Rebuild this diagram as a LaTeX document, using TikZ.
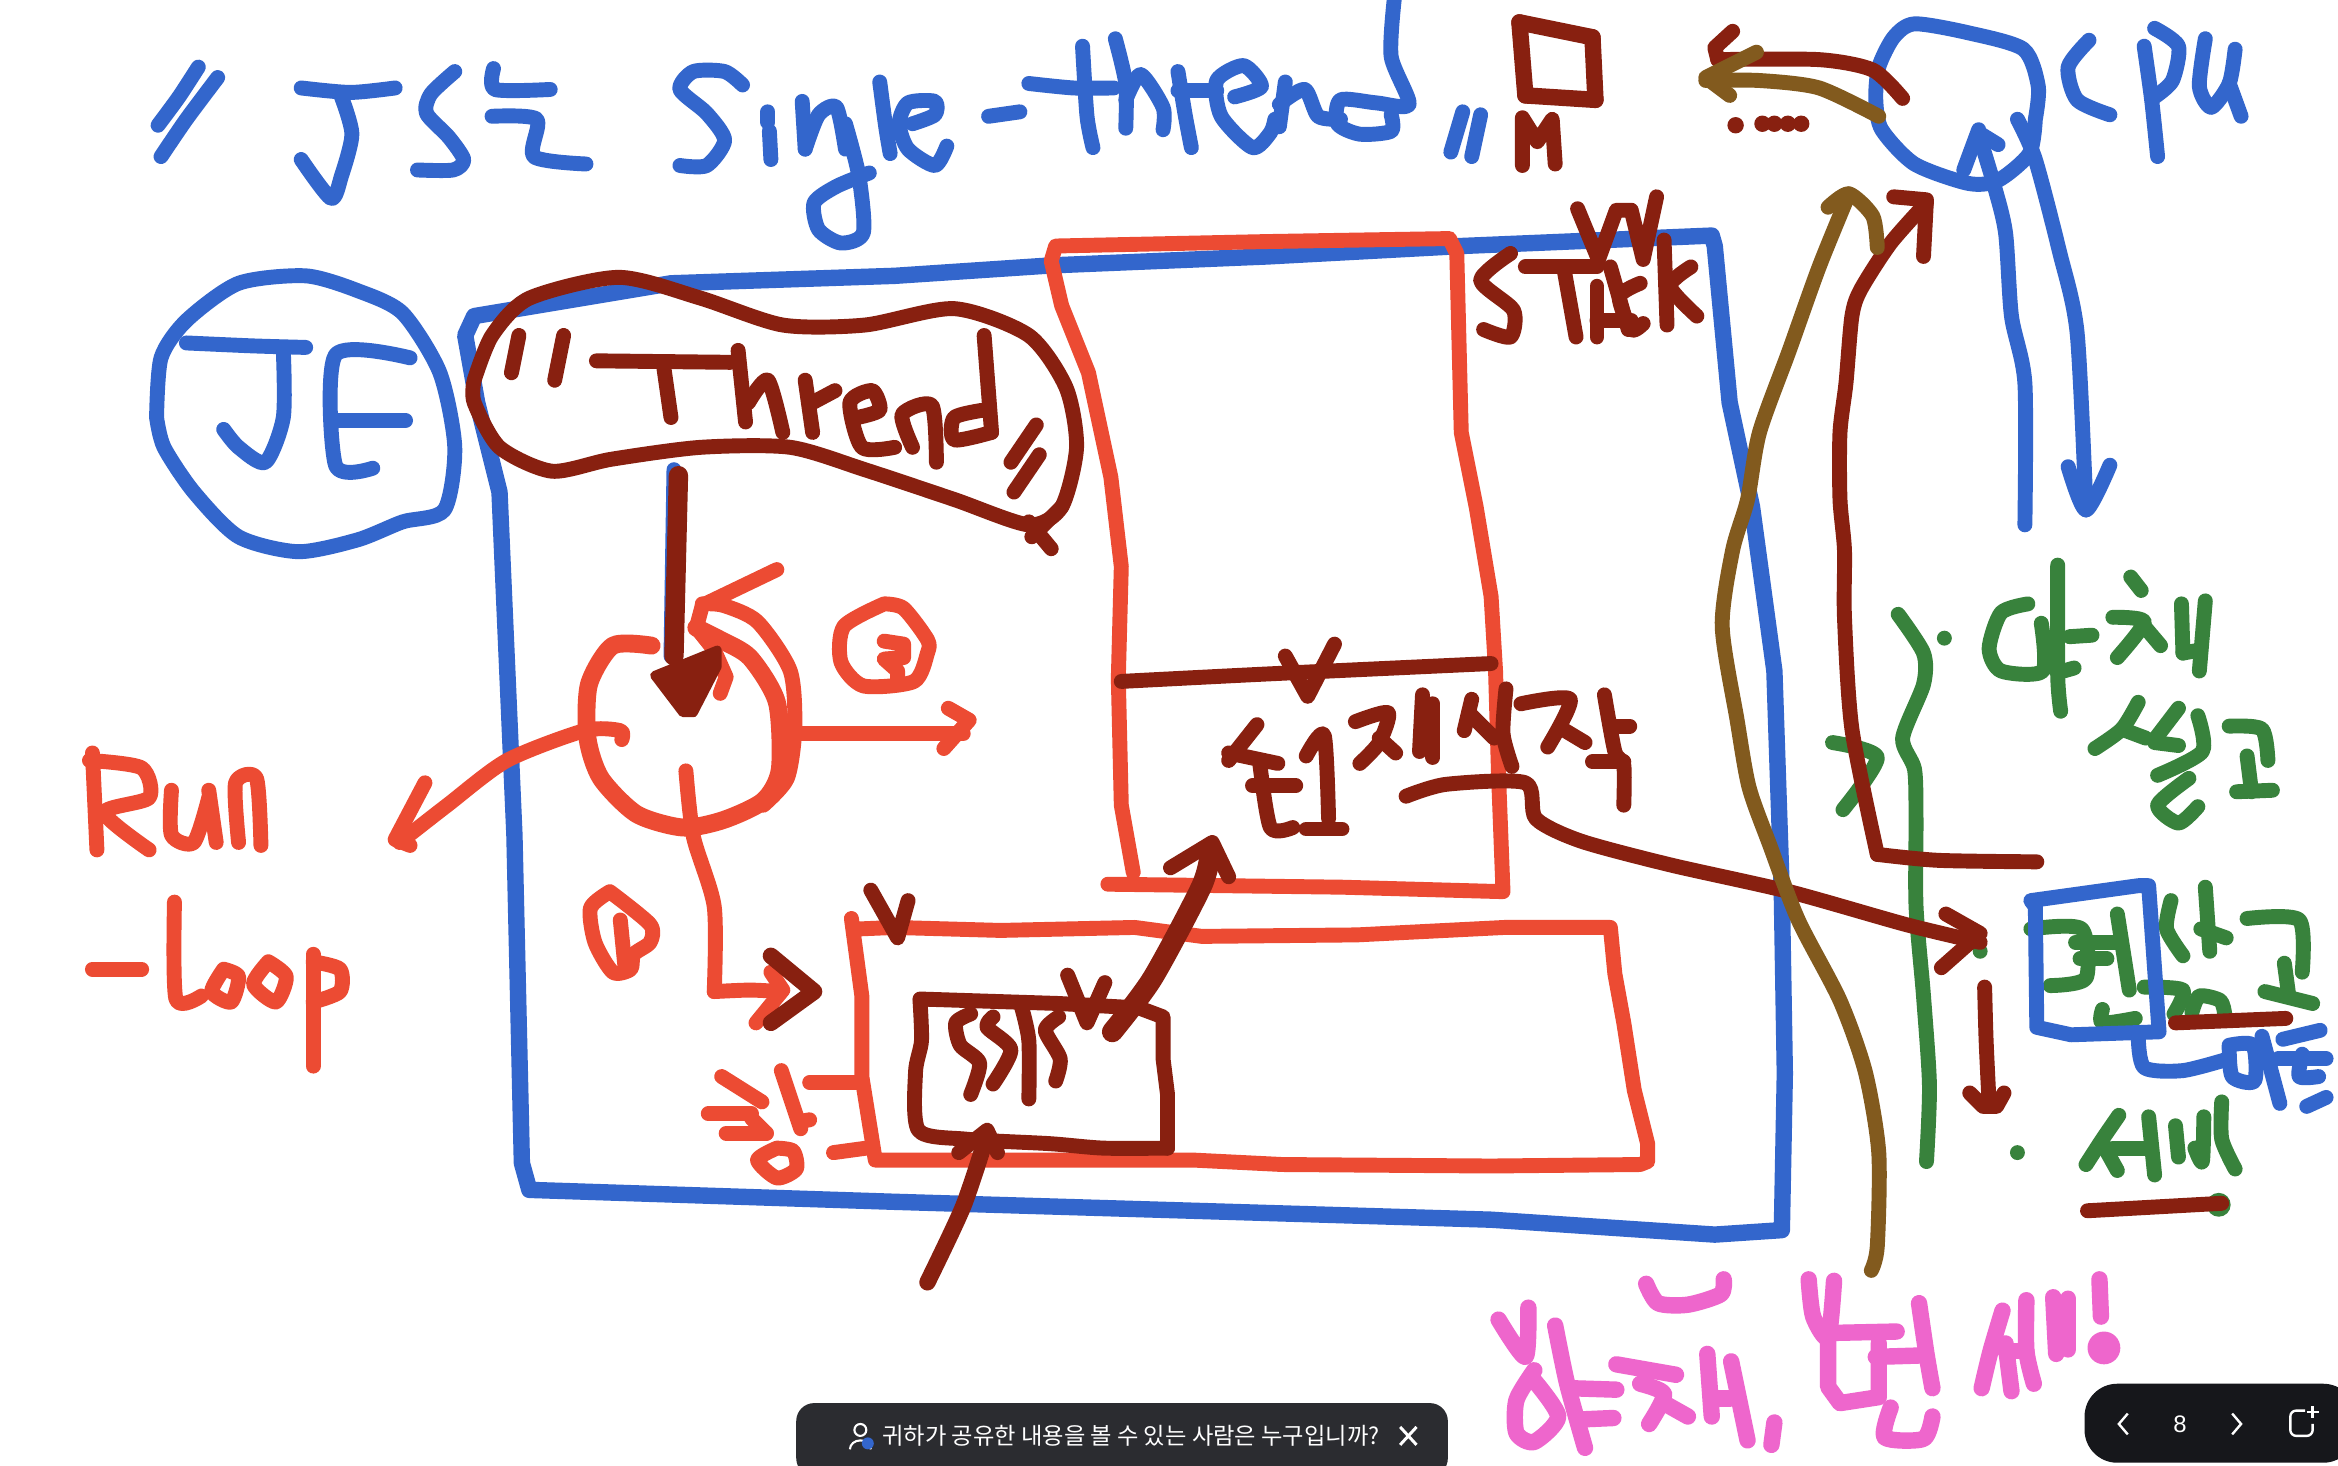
\documentclass[tikz,border=0pt]{standalone}
\usepackage{fontspec}
\newfontfamily\krfont{Noto Sans CJK KR}
\setmainfont{Liberation Sans}
\definecolor{penblue}{HTML}{3366CC}
\definecolor{penred}{HTML}{EC4B33}
\definecolor{pendark}{HTML}{882010}
\definecolor{penbrown}{HTML}{825A1E}
\definecolor{pengreen}{HTML}{38823C}
\definecolor{penpink}{HTML}{EE66CC}
\definecolor{barA}{HTML}{2B2C30}
\definecolor{barB}{HTML}{16171B}
\newcommand{\stk}[2][]{\draw[#1] plot[smooth,tension=.45] coordinates {#2};}
\tikzset{pen/.style={line width=5pt,line cap=round,line join=round},
 barlabel/.style={text=white,inner sep=0pt,anchor=center}}
\begin{document}
\begin{tikzpicture}[x=.5pt,y=-.5pt]
\useasboundingbox (0,0) rectangle (1568,983);
\fill[white] (0,0) rectangle (1568,983);
% ---- green notes
\begin{scope}[pen,draw=pengreen]
\stk{(1273,412) (1290,438) (1290,459) (1276,495) (1284,516) (1285,549) (1285,608) (1290,668) (1294,728) (1292,779)}
\stk{(1229,498) (1259,508) (1236,543)}
\stk{(1360,405) (1342,411) (1334,435) (1342,450) (1370,450) (1369,418)}
\stk{(1380,379) (1380,453) (1382,477)}
\stk{(1388,427) (1403,426)} \stk{(1384,450) (1391,448)}
\stk{(1429,387) (1436,396)} \stk{(1417,414) (1438,417) (1420,441)} \stk{(1438,420) (1449,433)}
\stk{(1463,405) (1464,438)} \stk{(1479,403) (1475,450)} \stk{(1464,438) (1475,436)}
\stk{(1434,471) (1423,489) (1405,502)} \stk{(1423,489) (1439,495)}
\stk{(1461,475) (1445,496)} \stk{(1445,498) (1461,500)}
\stk{(1474,480) (1477,504) (1447,520)} \stk{(1468,522) (1447,540) (1461,552) (1474,541)}
\stk{(1495,487) (1517,489) (1521,510)} \stk{(1507,507) (1510,531)} \stk{(1500,531) (1524,530)}
\stk{(1362,623) (1396,623) (1399,656) (1375,661)} \stk{(1392,632) (1420,632)} \stk{(1395,643) (1413,643)}
\stk{(1420,613) (1428,664)}
\stk{(1438,662) (1464,664) (1458,680)} \stk{(1470,679) (1475,668) (1489,671) (1492,680)}
\stk{(1410,677) (1410,686) (1432,683)}
\stk{(1456,604) (1453,623) (1464,641)} \stk{(1479,595) (1482,638)} \stk{(1476,623) (1493,629)}
\stk{(1507,616) (1542,617) (1544,652)} \stk{(1532,646) (1535,668)} \stk{(1519,665) (1551,673)}
\stk{(1421,748) (1410,764) (1399,781)} \stk{(1410,767) (1420,785)} \stk{(1417,770) (1442,770)}
\stk{(1441,749) (1445,788)} \stk{(1459,755) (1461,776)} \stk{(1472,770) (1477,779) (1478,749)}
\stk{(1490,739) (1490,764) (1499,784)}
\fill[pengreen] (1304,428) circle (5) (1328,638) circle (5) (1353,773) circle (5) (1488,808) circle (8);
\end{scope}
% ---- blue
\begin{scope}[pen,draw=penblue]
\stk{(133,45) (120,65) (106,84)} \stk{(146,52) (125,80) (108,105)}
\stk{(202,59) (235,62) (265,59)} \stk{(229,65) (236,90) (229,118) (222,133) (202,107)}
\stk{(305,48) (289,63) (286,76) (301,92) (311,107) (304,114) (280,114)}
\stk{(331,46) (332,60) (369,60)} \stk{(330,78) (360,80) (358,105) (393,110)}
\stk{(498,57) (486,48) (465,48) (456,60) (474,76) (486,94) (474,111) (456,111)}
\stk{(515,75) (515,82)} \stk{(516,88) (517,107)}
\stk{(538,68) (540,100)} \stk{(540,100) (549,77) (561,72) (567,100)}
\stk{(567,83) (576,118) (579,156) (564,163) (549,154) (546,136) (561,125) (583,116)}
\stk{(590,55) (594,85) (597,103)}
\stk{(612,83) (627,77) (627,68) (609,69) (603,83) (609,100) (627,111) (635,98)}
\stk{(663,78) (684,75)}
\stk{(690,56) (720,59) (747,59)} \stk{(726,31) (729,78) (733,99)}
\stk{(748,26) (755,56) (755,86)} \stk{(755,67) (765,50) (780,72) (780,87)}
\stk{(790,48) (795,78) (799,99)} \stk{(790,61) (816,61)}
\stk{(828,65) (846,58) (834,44) (816,54) (819,78) (840,99) (852,89) (855,80)}
\stk{(862,55) (858,85)} \stk{(858,70) (875,60) (884,78) (899,80)}
\stk{(935,0) (933,38) (945,70) (923,69) (899,67) (897,83) (912,90) (933,88) (933,77)}
\stk{(981,75) (973,102)} \stk{(993,77) (987,105)}
% CPU
\stk{(1365,80) (1367,58) (1357,33) (1320,22) (1284,16) (1270,25) (1260,45) (1258,67) (1262,87) (1284,110) (1320,123) (1340,121) (1361,103) (1365,80)}
\stk{(1401,27) (1387,45) (1393,67) (1415,77)}
\stk{(1438,31) (1443,67) (1447,105)} \stk{(1445,19) (1461,31) (1457,54) (1445,65)}
\stk{(1479,26) (1475,58) (1483,72) (1495,56) (1499,33)} \stk{(1495,56) (1503,78)}
\stk{(1358,352) (1358,257) (1349,212) (1345,156) (1337,123) (1327,90)}
\stk{(1327,87) (1317,114)} \stk{(1327,89) (1340,97)}
\stk{(1353,80) (1365,107) (1381,168) (1393,223) (1399,342)}
\stk{(1387,313) (1399,342) (1415,312)}
% JE
\stk{(105,280) (108,240) (125,215) (160,190) (205,185) (240,195) (270,210) (295,250) (305,300) (298,342) (270,350) (240,362) (200,370) (160,360) (130,330) (110,300) (105,280)}
\stk{(125,230) (170,232) (205,233)} \stk{(190,235) (190,280) (178,310) (160,300) (150,288)}
\stk{(275,240) (225,238) (225,312) (250,314)} \stk{(225,282) (272,282)}
% big box
\draw[pen,line width=5.5pt] (312,225) -- (318,212) -- (450,190) -- (600,185) -- (705,178) -- (850,172) -- (980,165) -- (1148,158) -- (1150,165) -- (1160,270) -- (1175,340) -- (1190,450) -- (1195,600) -- (1197,720) -- (1195,825) -- (1150,828) -- (1000,818) -- (800,812) -- (600,806) -- (355,798) -- (350,780) -- (345,560) -- (335,330) -- (320,270) -- cycle;
\stk{(452,315) (450,440)}
% mini box + trailing note
\draw[pen] (1362,604) -- (1434,594) -- (1441,594) -- (1448,692) -- (1389,694) -- (1366,689) -- (1365,608) -- cycle;
\stk{(1434,695) (1438,716) (1464,718) (1495,710)}
\stk{(1495,701) (1511,701) (1512,725) (1497,722) (1495,701)}
\stk{(1517,695) (1529,740)} \stk{(1531,697) (1556,691)} \stk{(1528,710) (1560,710)}
\stk{(1544,707) (1542,722) (1555,722)} \stk{(1547,742) (1560,736)}
\end{scope}
% ---- red
\begin{scope}[pen,draw=penred]
\draw[pen] (743,593) -- (900,595) -- (1008,598) -- (1005,520) -- (1003,450) -- (1000,400) -- (990,340) -- (980,290) -- (977,170) -- (972,160) -- (850,162) -- (708,165) -- (705,175) -- (712,205) -- (730,250) -- (745,320) -- (752,380) -- (750,455) -- (752,540) -- (760,585);
\draw[pen] (571,616) -- (578,668) -- (578,722) -- (587,778) -- (800,778) -- (860,781) -- (1000,782) -- (1100,781) -- (1105,779) -- (1105,767) -- (1096,731) -- (1089,686) -- (1083,653) -- (1080,622) -- (1009,622) -- (910,627) -- (806,628) -- (761,622) -- (671,624) -- (600,622) -- (576,623);
\stk[line width=6pt]{(437,433) (411,433) (395,459) (394,495) (403,522) (427,546) (458,555) (485,550) (512,537) (523,516) (521,471) (503,441) (483,429) (467,421)}
\stk{(512,540) (528,522) (533,489) (530,450) (508,417) (485,406) (471,405)}
\draw[pen] (521,382) -- (471,406) -- (467,421) -- (479,436) -- (487,454) -- (483,465);
\stk{(417,496) (416,490) (392,490) (340,510) (300,540) (268,565)}
\draw[pen] (285,525) -- (265,563) -- (275,567);
\stk{(534,492) (559,492) (646,492)} \draw[pen] (636,475) -- (650,483) -- (633,502);
\stk{(460,517) (465,561) (479,608) (479,665)} \stk{(479,665) (503,664) (523,665)}
\draw[pen] (517,652) -- (525,664) -- (507,686);
\stk{(593,405) (566,420) (564,444) (579,460) (613,457) (622,438) (622,429) (606,408) (593,405)}
\draw[pen] (593,430) -- (606,432) -- (606,441) -- (593,442) -- (602,450) -- (602,456);
\stk{(409,598) (396,609) (399,632) (411,652) (423,650) (425,640) (436,632) (436,620) (409,598)}
\stk{(416,617) (419,647)}
\stk{(484,722) (511,739)} \stk{(475,747) (504,747)} \stk{(487,760) (514,760)} \stk{(504,750) (514,760)}
\stk{(521,770) (508,778) (521,790) (534,784) (532,772) (521,770)}
\stk{(524,718) (537,757)} \stk{(537,752) (543,751)}
\stk{(543,726) (578,726)} \stk{(559,773) (581,770)}
% Run-Loop
\stk{(62,505) (65,570)} \stk{(60,510) (95,515) (100,535) (70,545) (100,570)}
\stk{(115,530) (115,560) (130,565) (140,535)} \stk{(140,530) (145,565)}
\stk{(160,565) (158,525) (172,522) (175,567)}
\stk{(62,650) (95,650)} \stk{(117,605) (118,670) (135,668)}
\stk{(150,650) (142,665) (155,672) (160,655) (150,650)}
\stk{(180,645) (170,660) (185,672) (192,655) (180,645)}
\stk{(210,640) (210,715)} \stk{(210,645) (228,650) (228,665) (210,672)}
\end{scope}
% ---- dark red
\begin{scope}[pen,draw=pendark]
\stk[line width=5.5pt]{(1019,15) (1068,25)} \stk[line width=5.5pt]{(1068,25) (1070,67)} \stk[line width=5.5pt]{(1070,67) (1023,64)} \stk[line width=5.5pt]{(1023,64) (1019,15)}
\draw[pen] (1021,111) -- (1021,79) -- (1031,95) -- (1041,80) -- (1043,110);
\stk{(1276,66) (1256,47) (1220,40) (1152,40)} \draw[pen] (1162,21) -- (1150,32) -- (1152,40);
\fill[pendark] (1164,84) circle (5.5) (1182,83) circle (5.5) (1190,83) circle (5.5) (1199,83) circle (5.5) (1208,83) circle (5.5);
\stk{(1013,170) (993,188) (1015,208) (1013,226) (995,221)}
\stk{(1023,179) (1071,179)} \stk{(1049,181) (1057,226)}
\stk{(1071,226) (1071,192)} \stk{(1080,179) (1092,221)} \stk{(1071,215) (1094,215)}
\stk{(1100,190) (1086,199) (1094,221) (1102,217)}
\stk{(1116,161) (1118,218)} \stk{(1134,179) (1120,192) (1138,212)}
\draw[pen] (1058,140) -- (1072,174) -- (1084,141) -- (1094,141) -- (1102,174) -- (1111,132);
\stk{(752,457) (850,452) (1000,445)} \draw[pen] (862,440) -- (877,467) -- (895,432);
\stk{(843,486) (824,510)} \stk{(824,505) (857,512)} \stk{(845,513) (852,555) (867,555)} \stk{(840,527) (869,527)}
\stk{(876,507) (888,493) (891,549)} \stk{(876,556) (900,556)}
\stk{(909,484) (931,478) (925,498) (912,512)} \stk{(925,495) (936,505)}
\stk{(954,466) (952,504)} \stk{(961,472) (961,508)}
\stk{(987,469) (982,490)} \stk{(985,478) (1002,495)} \stk{(1010,462) (1008,492) (1014,514)}
\stk{(1020,472) (1053,469) (1038,501)} \stk{(1048,489) (1063,498)}
\stk{(1076,466) (1083,504) (1089,513) (1089,540)} \stk{(1083,487) (1093,487)} \stk{(1068,511) (1089,511)}
\stk{(943,534) (970,526) (1023,525) (1030,549) (1060,564) (1120,580) (1200,598) (1278,620) (1328,632)}
\draw[pen] (1305,613) -- (1328,626) -- (1302,649);
\stk{(1292,136) (1268,163) (1248,194) (1242,212) (1238,257) (1234,290) (1234,335) (1237,369) (1237,414) (1242,489) (1259,573)}
\stk{(1259,573) (1300,577) (1366,578)}
\draw[pen] (1290,172) -- (1292,134) -- (1270,132);
\stk{(1331,662) (1332,698) (1334,740)} \draw[pen] (1321,733) -- (1330,742) -- (1339,742) -- (1344,733);
\stk{(1459,686) (1533,683)} \stk{(1400,812) (1490,807)}
\stk{(318,255) (330,225) (355,200) (415,186) (470,200) (525,218) (580,218) (640,207) (690,225) (715,260) (722,300) (712,340) (690,352) (640,335) (580,315) (530,300) (470,300) (410,308) (370,316) (335,300) (318,270) (318,255)}
\draw[pen] (690,350) -- (705,368); \draw[pen] (712,340) -- (692,360);
\stk{(348,225) (343,250)} \stk{(378,225) (372,255)}
\stk{(400,242) (490,243)} \stk{(445,245) (450,280)}
\stk{(495,235) (500,283)} \stk{(502,270) (515,255) (525,290)}
\stk{(540,255) (545,290)} \stk{(545,270) (560,262)}
\stk{(575,280) (590,275) (585,262) (570,270) (578,300) (600,300)}
\stk{(612,300) (605,278) (625,272) (628,310)}
\stk{(660,275) (640,280) (640,295) (665,290)} \stk{(660,225) (665,290)}
\stk{(695,285) (678,310)} \stk{(697,305) (680,330)}
\draw[pen,line width=6.5pt] (455,319) -- (453,400) -- (452,440);
\fill[pendark,draw=pendark,line join=round,line width=3pt] (439,453) -- (481,436) -- (481,447) -- (465,478) -- (458,478) -- cycle;
\draw[pen,line width=5.5pt] (517,641) -- (546,665) -- (517,686);
\draw[pen] (584,597) -- (602,629) -- (609,604);
\stk{(617,671) (618,698) (614,719) (616,758) (648,764) (704,767) (740,770) (783,770)}
\draw[pen] (783,770) -- (783,734) -- (780,710) -- (780,682) -- (764,676) -- (710,673) -- (617,670);
\stk{(651,680) (641,686) (644,701) (657,713) (651,734)}
\stk{(666,682) (662,689) (678,704) (666,727)}
\stk{(685,675) (690,698) (690,737)}
\stk{(710,682) (701,691) (711,710) (708,725)}
\draw[pen] (716,654) -- (729,686) -- (741,659);
\stk[line width=7pt]{(746,692) (773,656) (806,594) (812,570)}
\draw[pen] (785,582) -- (813,565) -- (824,588);
\stk[line width=5.5pt]{(662,761) (646,809) (622,860)}
\draw[pen] (643,773) -- (662,758) -- (669,773);
\end{scope}
% ---- brown
\begin{scope}[pen,draw=penbrown]
\stk{(1260,78) (1220,59) (1180,54) (1144,54)} \draw[pen] (1178,35) -- (1144,52) -- (1160,64);
\stk{(1240,130) (1220,179) (1200,235) (1180,290) (1172,335) (1162,369) (1155,420) (1165,483) (1173,528) (1187,567) (1206,617) (1234,671) (1251,719) (1260,773) (1259,836) (1255,852)}
\stk{(1226,139) (1240,130) (1256,145) (1259,166)}
\end{scope}
% ---- pink
\begin{scope}[pen,draw=penpink,line width=5.5pt]
\stk{(1025,877) (1023,910) (1005,885)}
\stk{(1029,919) (1017,939) (1017,961) (1029,967) (1045,950) (1029,926)}
\stk{(1043,889) (1051,928) (1063,971)} \stk{(1053,931) (1084,932)} \stk{(1059,952) (1082,951)}
\stk{(1104,861) (1112,874) (1132,875) (1154,868) (1156,858)}
\stk{(1084,915) (1124,922)} \stk{(1100,928) (1116,935) (1106,955)} \stk{(1116,941) (1132,950)}
\stk{(1145,908) (1148,950)} \stk{(1148,938) (1160,938)} \stk{(1161,913) (1172,966)}
\stk{(1190,954) (1188,969)}
\stk{(1213,858) (1216,883) (1226,897) (1230,859)}
\draw (1226,894) -- (1226,930) -- (1234,941) -- (1260,937) -- (1260,901);
\stk{(1226,894) (1272,893)} \stk{(1258,910) (1290,909)} \stk{(1287,874) (1292,908) (1296,931)}
\stk{(1268,944) (1264,964) (1290,965) (1296,950)}
\stk{(1343,879) (1335,906) (1329,931)} \stk{(1345,901) (1349,933)} \stk{(1345,906) (1359,906)}
\stk{(1359,872) (1359,906) (1364,928)}
\stk{(1377,870) (1379,908)} \stk{(1387,871) (1387,905)}
\stk{(1408,858) (1409,883)} \fill[penpink] (1411,904) circle (11);
\end{scope}
% ---- bars
\fill[barA,rounded corners=6pt] (534,990) -- (534,941) -- (971,941) -- (971,990) -- cycle;
\draw[white,line width=.7pt] (577,959) circle (4) (570,972) arc (180:360:7 and 6);
\fill[penblue] (582,968) circle (4);
\node[barlabel,font=\krfont\fontsize{7.8pt}{9pt}\selectfont] (sharetext) at (758.5,963) {귀하가 공유한 내용을 볼 수 있는 사람은 누구입니까?};
\draw[white,line width=1pt] (939,957) -- (950,969) (950,957) -- (939,969);
\fill[barB,rounded corners=11pt] (1398,928) rectangle (1580,981);
\draw[white,line width=.8pt] (1427,948) -- (1421,955) -- (1427,962);
\node[barlabel,font=\fontsize{8pt}{9pt}\selectfont] (pagenum) at (1462,955) {8};
\draw[white,line width=.8pt] (1497,948) -- (1503,955) -- (1497,962);
\draw[white,line width=.8pt,rounded corners=2pt] (1546,946) -- (1536,946) -- (1536,963) -- (1551,963) -- (1551,955);
\draw[white,line width=.8pt] (1551,943) -- (1551,951) (1547,947) -- (1555,947);
\end{tikzpicture}
\end{document}
